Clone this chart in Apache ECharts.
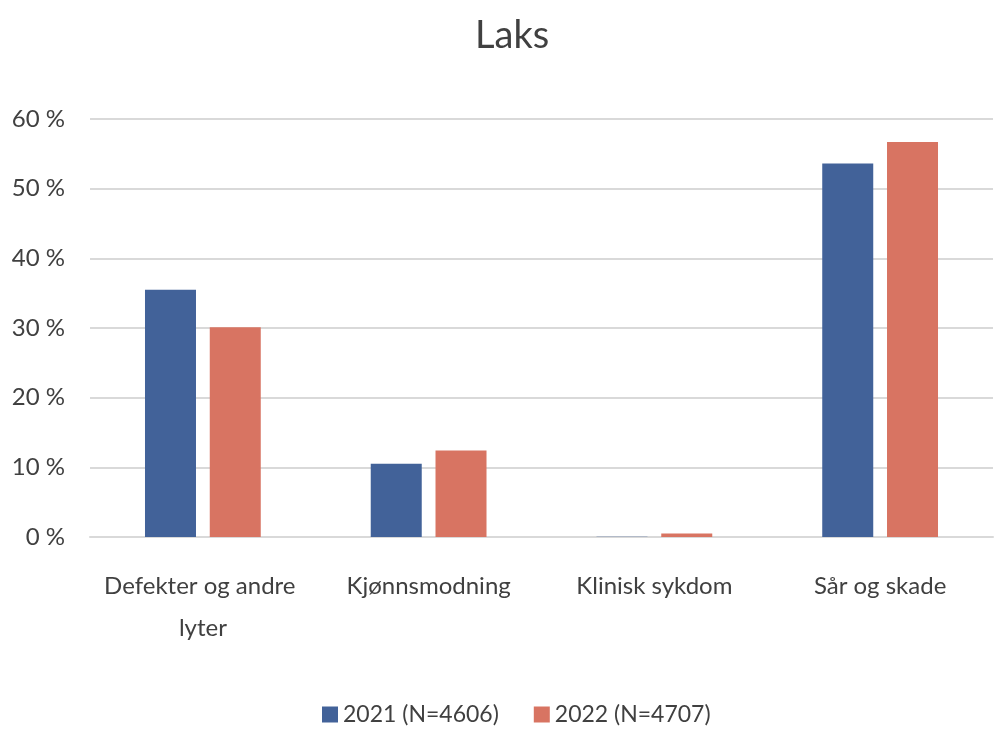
<!DOCTYPE html>
<html>
<head>
<meta charset="utf-8">
<script src="https://cdn.jsdelivr.net/npm/echarts@6/dist/echarts.min.js"></script>
<style>html,body{margin:0;padding:0;background:#fff;}#c{width:994px;height:732px;}</style>
</head>
<body>
<div id="c"></div>
<script>
const categories = ['Defekter og andre lyter', 'Kjønnsmodning', 'Klinisk sykdom', 'Sår og skade'];
const series2021 = [35.5, 10.5, 0.05, 53.6];
const series2022 = [30.1, 12.4, 0.5, 56.7];
const seriesNames = ['2021 (N=4606)', '2022 (N=4707)'];
const yTicks = [0, 10, 20, 30, 40, 50, 60];

const FONT = 'Lato, "Liberation Sans", sans-serif';
const TXT = '#404040';
const chart = echarts.init(document.getElementById('c'));
chart.setOption({
  animation: false,
  backgroundColor: '#ffffff',
  title: {
    text: 'Laks', left: 470, top: 12,
    textStyle: { fontFamily: FONT, fontSize: 38, fontWeight: 'normal', color: TXT }
  },
  legend: {
    bottom: 1, left: 317, icon: 'rect',
    itemWidth: 16, itemHeight: 16, itemGap: 35,
    textStyle: { fontFamily: FONT, fontSize: 23, color: TXT },
    data: seriesNames
  },
  grid: { left: 90, right: 1, top: 119, bottom: 195, containLabel: false },
  xAxis: {
    type: 'category', data: categories,
    axisTick: { show: false },
    axisLine: { lineStyle: { color: '#d9d9d9', width: 2 } },
    axisLabel: {
      interval: 0, margin: 28, fontFamily: FONT, fontSize: 24, color: TXT,
      width: 200, overflow: 'break', lineHeight: 42
    }
  },
  yAxis: {
    type: 'value', min: yTicks[0], max: yTicks[yTicks.length - 1], interval: 10,
    axisLine: { show: false }, axisTick: { show: false },
    axisLabel: { margin: 25, fontFamily: FONT, fontSize: 24, color: TXT, formatter: v => v + ' %' },
    splitLine: { lineStyle: { color: '#d9d9d9', width: 2 } }
  },
  series: [
    { name: seriesNames[0], type: 'bar', data: series2021, barWidth: 51, barGap: '27%', itemStyle: { color: '#426299' } },
    { name: seriesNames[1], type: 'bar', data: series2022, barWidth: 51, itemStyle: { color: '#D87462' } }
  ]
});
</script>
</body>
</html>
